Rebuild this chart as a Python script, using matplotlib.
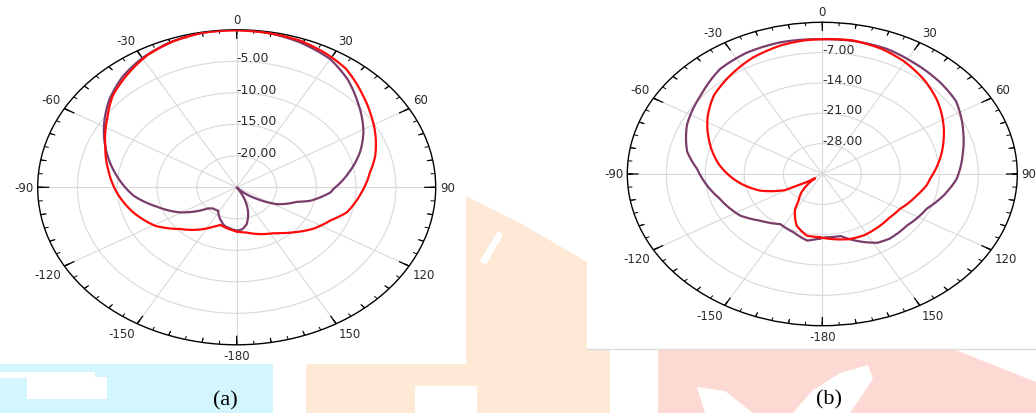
import numpy as np
import matplotlib
matplotlib.use("Agg")
import matplotlib.pyplot as plt
from matplotlib.patches import Polygon
from matplotlib.lines import Line2D
from matplotlib.transforms import offset_copy

W, H, DPI = 1036, 414, 100

# ---------------- radiation pattern (a) : angle [deg], gain [dB] ----------------
a_red_theta = [-180, -169, -161, -155, -141, -133, -121, -107, -93, -80, -68, -56,
               -47, -38, -28, -19, -10, 0, 9, 19, 28, 36, 47, 55, 63, 74, 82, 93,
               106, 114, 124, 135, 143, 148, 170]
a_red_db = [-18.0, -18.4, -18.7, -18.1, -16.3, -15.3, -13.1, -11.4, -9.9, -8.6, -7.2, -5.4,
            -3.7, -2.5, -1.2, -0.5, -0.1, -0.1, -0.2, -0.4, -1.0, -1.7, -3.4, -4.5, -5.5, -6.9,
            -8.1, -9.3, -10.6, -12.1, -13.3, -14.9, -15.9, -16.4, -17.7]

a_pur_theta = [-180, -166, -157, -148, -138, -133, -119, -107, -96, -83, -71, -62, -49,
               -39, -30, -20, -10, 0, 10, 19, 30, 39, 48, 61, 70, 80, 91, 94, 103, 107,
               118, 126, 134, 140, 146, 152, 160, 168, 174]
a_pur_db = [-18.1, -18.7, -19.6, -20.6, -20.5, -20.1, -16.8, -14.5, -12.0, -9.8, -7.7,
            -6.1, -3.8, -2.3, -1.3, -0.5, -0.1, 0.0, -0.2, -0.65, -1.5, -2.9, -4.6, -6.8,
            -8.5, -10.6, -12.8, -13.2, -15.5, -17.1, -19.3, -21.9, -23.8, -25.0, -25.0,
            -23.0, -20.8, -19.0, -18.3]

a_rmin = -25
a_rings = [-20, -15, -10, -5]
a_ring_labels = ["-20.00", "-15.00", "-10.00", "-5.00"]

# ---------------- radiation pattern (b) : angle [deg], gain [dB] ----------------
b_red_theta = [-178, -169, -159, -149, -146, -138, -127, -121, -119, -109, -100, -94, -84,
               -74, -68, -58, -47, -36, -25, -14, -6, 0, 10, 20, 29, 40, 50, 61, 71, 83,
               93, 98, 106, 120, 130, 139, 152, 162, 177]
b_red_db = [-20.4, -20.5, -22.2, -25.5, -27.3, -29.5, -33.4, -30.3, -27.3, -23.2, -20.6,
            -19.0, -16.5, -14.3, -13.0, -10.7, -8.4, -6.9, -5.4, -4.4, -4.0, -3.9, -3.7,
            -4.2, -5.1, -6.6, -8.2, -10.2, -12.0, -14.0, -15.6, -16.1, -17.3, -18.9, -19.3,
            -19.2, -19.0, -19.2, -20.1]

b_pur_theta = [-178, -170, -159, -147, -134, -123, -107, -87, -78, -65, -50, -37, -26,
               -14, 0, 10, 22, 32, 45, 55, 69, 79, 93, 99, 103, 113, 128, 141, 148, 155,
               162, 167, 177]
b_pur_db = [-20.1, -19.4, -20.6, -21.2, -19.5, -17.4, -15.7, -12.5, -10.2, -8.2, -6.6,
            -4.6, -3.9, -3.7, -3.9, -3.8, -3.9, -4.5, -5.1, -5.7, -7.9, -9.3, -10.9, -12.0,
            -12.7, -14.6, -15.7, -15.8, -16.3, -17.7, -19.2, -20.3, -20.4]

b_rmin = -35
b_rings = [-28, -21, -14, -7]
b_ring_labels = ["-28.00", "-21.00", "-14.00", "-7.00"]

angle_ticks = [0, 30, 60, 90, 120, 150, 180, 210, 240, 270, 300, 330]
angle_labels = ["0", "30", "60", "90", "120", "150", "-180", "-150", "-120", "-90", "-60", "-30"]

RED = "#ff0a0a"
PURPLE = "#7a3c6b"
GRID = "#d9d9d9"
TXT = "#2a2a2a"

fig = plt.figure(figsize=(W / DPI, H / DPI), dpi=DPI)
fig.patch.set_facecolor("white")


def fx(x):
    return x / W


def fy(y):
    return 1 - y / H


def bg_poly(points, color, z=0):
    pts = [(fx(x), fy(y)) for x, y in points]
    fig.add_artist(Polygon(pts, closed=True, transform=fig.transFigure,
                           facecolor=color, edgecolor="none", zorder=z))


# faint background artwork
bg_poly([(0, 365), (273, 365), (273, 414), (0, 414)], "#d3f5fd")
bg_poly([(0, 373), (95, 373), (95, 379), (0, 379)], "white", 0.1)
bg_poly([(27, 378), (107, 378), (107, 400), (27, 400)], "white", 0.1)
bg_poly([(306, 365), (466, 365), (466, 197), (520, 224), (587, 263), (587, 350),
         (610, 350), (610, 414), (306, 414)], "#fde9d6")
bg_poly([(415, 387), (477, 387), (477, 414), (415, 414)], "white", 0.1)
bg_poly([(480, 262), (498, 232), (503, 236), (486, 266)], "white", 0.1)
bg_poly([(658, 350), (953, 350), (1036, 383), (1036, 414), (658, 414)], "#fdd9d4")
bg_poly([(697, 388), (725, 392), (753, 414), (705, 414)], "white", 0.1)
bg_poly([(793, 414), (812, 392), (840, 374), (868, 366), (873, 380), (858, 402),
         (850, 414)], "white", 0.1)
fig.add_artist(Line2D([fx(587), fx(1036)], [fy(350), fy(350)], transform=fig.transFigure,
                      color="#dcdcdc", lw=1.0, zorder=0.2))


def make_polar(left, top, width, height):
    rect = [fx(left), fy(top + height), width / W, height / H]
    ax = fig.add_axes(rect, projection="polar")
    ax.set_aspect("auto")
    ax.set_theta_zero_location("N")
    ax.set_theta_direction(-1)
    return ax


def rim_ticks(ax, rmin):
    span = -rmin
    for step, frac, lw in ((5, 0.022, 0.7), (10, 0.03, 0.8), (30, 0.058, 0.9)):
        angs = np.deg2rad(np.arange(0, 360, step))
        t = np.repeat(angs, 3)
        r = np.tile([0.0, -frac * span, np.nan], len(angs))
        t[2::3] = np.nan
        ax.plot(t, r, color="black", lw=lw, solid_capstyle="butt", zorder=3)


def style(ax, rmin, rings, ring_labels):
    ax.set_rlim(rmin, 0)
    ax.set_xticks(np.deg2rad(angle_ticks))
    ax.set_xticklabels([])
    ax.set_yticks(rings)
    ax.set_yticklabels([])
    ax.xaxis.grid(True, color=GRID, lw=0.8)
    ax.yaxis.grid(True, color=GRID, lw=0.8)
    ax.tick_params(axis="x", length=0)
    ax.spines["polar"].set_color("black")
    ax.spines["polar"].set_linewidth(1.0)
    rim_ticks(ax, rmin)

    for ang, lab in zip(angle_ticks, angle_labels):
        s, c = np.sin(np.deg2rad(ang)), np.cos(np.deg2rad(ang))
        ha = "left" if s > 0.05 else ("right" if s < -0.05 else "center")
        va = "bottom" if c > 0.05 else ("top" if c < -0.05 else "center")
        pad = 3.0
        tr = offset_copy(ax.transData, fig=fig, x=pad * s, y=pad * c, units="points")
        ax.text(np.deg2rad(ang), 0, lab, transform=tr, ha=ha, va=va,
                fontsize=8.5, color=TXT, family="DejaVu Sans", clip_on=False)

    for r, lab in zip(rings, ring_labels):
        ax.text(0, r, lab, ha="left", va="baseline", fontsize=9, color=TXT,
                family="DejaVu Sans", clip_on=False, zorder=4)


def trace(ax, theta, db, color):
    t = np.deg2rad(np.r_[theta, theta[0] + 360])
    r = np.r_[db, db[0]]
    line, = ax.plot(t, r, color=color, lw=1.6, solid_joinstyle="round", zorder=5)
    # follow the polar grid between samples instead of straight chords
    line.get_path()._interpolation_steps = 12


ax_a = make_polar(37.7, 30.8, 398, 315)
style(ax_a, a_rmin, a_rings, a_ring_labels)
trace(ax_a, a_pur_theta, a_pur_db, PURPLE)
trace(ax_a, a_red_theta, a_red_db, RED)

ax_b = make_polar(627.3, 23.3, 390, 303.4)
style(ax_b, b_rmin, b_rings, b_ring_labels)
trace(ax_b, b_pur_theta, b_pur_db, PURPLE)
trace(ax_b, b_red_theta, b_red_db, RED)

fig.text(fx(225), fy(401), "(a)", ha="center", va="center", fontsize=16,
         family="Liberation Serif", color="black")
fig.text(fx(829), fy(400), "(b)", ha="center", va="center", fontsize=16,
         family="Liberation Serif", color="black")

fig.savefig("out.png", dpi=DPI, facecolor="white")
